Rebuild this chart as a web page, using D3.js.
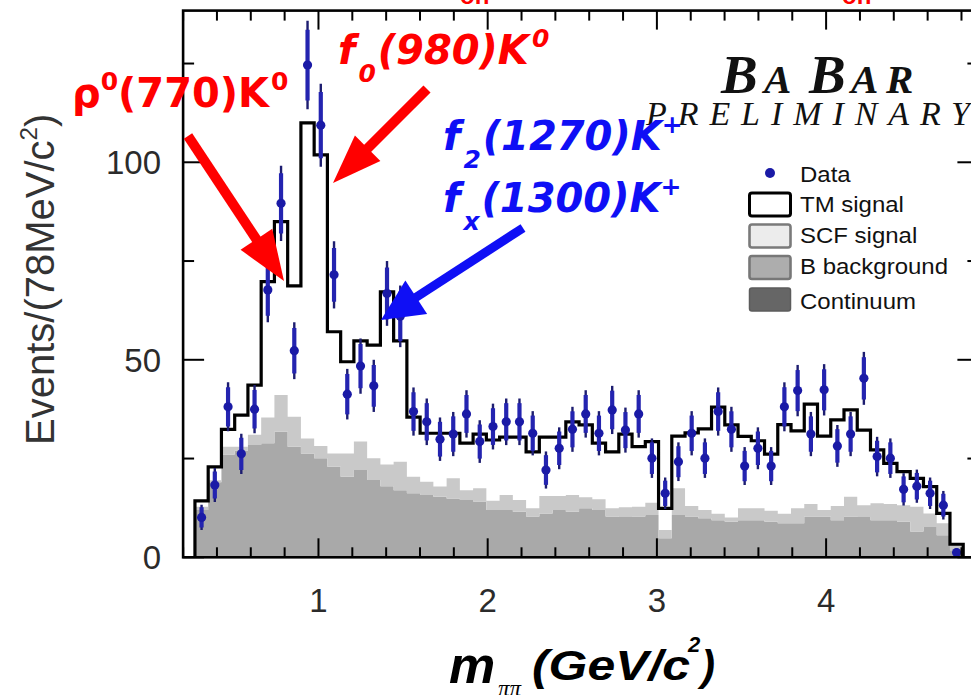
<!DOCTYPE html>
<html><head><meta charset="utf-8">
<script src="https://cdn.jsdelivr.net/npm/d3@7"></script>
<style>body{margin:0;background:#fff;overflow:hidden}</style>
</head><body>
<svg id="c" width="971" height="695" xmlns="http://www.w3.org/2000/svg"></svg>
<script>
// ---------------- data ----------------
const binStart = 0.27;      // GeV/c^2, low edge of first bin
const binWidth = 0.07828;   // GeV/c^2
const dataCounts = [10.1,18.3,38.1,26.2,37.5,67.7,89.6,52.3,124.6,109.4,71.5,41.3,48.4,43.4,66.8,61.0,36.9,34.3,29.9,31.2,
  36.3,29.3,33.1,34.3,34.3,31.4,22.1,27.6,32.4,36.3,31.4,37.3,32.2,36.3,25.1,16.2,24.2,31.4,25.1,36.9,
  32.4,23.1,27.6,23.1,38.1,42.2,31.2,42.4,28.2,31.2,45.3,25.5,25.1,17.2,18.0,16.2,13.2,1.2];
const dataErrors = [3.2,4.3,6.2,5.1,6.1,8.2,9.5,7.2,11.2,10.5,8.5,6.4,7.0,6.6,8.2,7.8,6.1,5.9,5.5,5.6,
  6.0,5.4,5.8,5.9,5.9,5.6,4.7,5.3,5.7,6.0,5.6,6.1,5.7,6.0,5.0,4.0,4.9,5.6,5.0,6.1,
  5.7,4.8,5.3,4.8,6.2,6.5,5.6,6.5,5.3,5.6,6.7,5.0,5.0,4.1,4.2,4.0,3.6,1.1];
const bBackground = [12.0,19.0,26.0,27.0,28.4,28.9,31.8,28.0,26.3,25.1,22.9,20.4,22.1,19.6,18.0,17.0,16.2,15.8,15.3,14.9,
  14.5,14.1,12.0,12.0,11.5,10.3,11.1,12.0,11.5,12.4,12.0,10.3,10.2,10.3,10.7,4.8,10.7,10.3,9.9,9.4,
  9.0,9.4,9.4,9.0,8.6,8.6,10.3,10.3,9.4,10.3,10.2,9.4,9.4,9.0,6.5,7.7,5.6,1.8];
const scfSignal = [0.8,0.5,2.0,1.0,2.6,6.5,9.3,7.6,3.8,3.1,3.4,5.9,7.2,5.5,5.5,7.2,4.2,3.3,2.6,5.1,
  2.5,3.4,2.3,3.8,3.0,2.1,4.4,3.5,4.3,2.8,2.7,2.1,2.5,2.5,3.1,2.1,6.8,2.7,2.1,1.6,
  1.1,3.0,3.0,2.8,2.4,3.8,3.2,1.7,3.6,5.0,3.0,4.3,4.1,4.2,6.3,3.4,3.0,1.4];
const tmSignal = [1.5,3.4,4.4,8.0,12.6,34.4,43.9,33.1,79.9,73.7,30.8,23.2,25.5,28.6,43.7,30.6,15.1,12.3,13.5,11.4,
  11.9,13.7,15.4,14.6,15.9,14.3,14.9,14.9,18.5,18.3,14.2,14.3,18.5,15.2,15.5,5.5,13.2,18.5,20.5,27.0,
  23.4,18.2,17.1,14.3,22.6,19.6,25.3,18.7,21.8,22.0,19.0,13.5,10.3,8.5,7.2,6.8,2.5,0.1];
const continuum = dataCounts.map(() => 0); // not visible in this plot
const xTickValues = [1,2,3,4];
const xTickLabels = ["1","2","3","4"];
const yTickValues = [0,50,100];
const yTickLabels = ["0","50","100"];
const legendLabels = ["Data","TM signal","SCF signal","B background","Continuum"];

// ---------------- layout ----------------
const svg = d3.select("#c");
const X0 = 183.1, X1 = 978.4, Y0 = 557.3, Y1 = 10.6;
const x = d3.scaleLinear().domain([0.2, 4.9]).range([X0, X1]);
const y = d3.scaleLinear().domain([0, 138.4]).range([Y0, Y1]);

svg.append("defs").append("clipPath").attr("id","plot")
  .append("rect").attr("x",X0).attr("y",Y1).attr("width",X1-X0).attr("height",Y0-Y1);

const rows = dataCounts.map((d,i)=>({i, cont:continuum[i], bkg:bBackground[i], scf:scfSignal[i], tm:tmSignal[i]}));
const stacked = d3.stack().keys(["cont","bkg","scf","tm"])(rows);
const lo = i => binStart + i*binWidth, hi = i => binStart + (i+1)*binWidth;

function stepPoints(layer){
  const pts = [];
  layer.forEach((s,i)=>{ pts.push({m:lo(i),a:s[0],b:s[1]}, {m:hi(i),a:s[0],b:s[1]}); });
  return pts;
}
const area = d3.area().x(p=>x(p.m)).y0(p=>y(p.a)).y1(p=>y(p.b));
const g = svg.append("g").attr("clip-path","url(#plot)");
const fills = {cont:"#666666", bkg:"#a9a9a9", scf:"#c9c9c9"};
stacked.slice(0,3).forEach(layer=>{
  g.append("path").attr("d", area(stepPoints(layer))).attr("fill", fills[layer.key]).attr("stroke","none");
});

// total (TM signal on top of stack) as black step line
const topLayer = stacked[3];
const linePts = [{m:lo(0), v:0}];
topLayer.forEach((s,i)=>{ linePts.push({m:lo(i),v:s[1]},{m:hi(i),v:s[1]}); });
linePts.push({m:hi(topLayer.length-1), v:0});
g.append("path").attr("d", d3.line().x(p=>x(p.m)).y(p=>y(p.v))(linePts))
  .attr("fill","none").attr("stroke","#000").attr("stroke-width",3.2).attr("stroke-linejoin","miter");

// data points
const dg = g.append("g");
dataCounts.forEach((n,i)=>{
  const c = x(binStart + (i+0.5)*binWidth);
  const e = dataErrors[i];
  dg.append("line").attr("x1",c).attr("x2",c).attr("y1",y(n-e)).attr("y2",y(n+e))
    .attr("stroke","#1d1d70").attr("stroke-width",2.4);
  dg.append("line").attr("x1",c).attr("x2",c).attr("y1",y(n-0.8*e)).attr("y2",y(n+0.8*e))
    .attr("stroke","#2424b0").attr("stroke-width",4.2);
  dg.append("circle").attr("cx",c).attr("cy",y(n)).attr("r",4.6).attr("fill","#1a1aa6");
});

// ---------------- frame and axes ----------------
const minorX = d3.range(1,25).map(k=>+(k*0.2).toFixed(1)).filter(v=>Math.abs(v-Math.round(v))>1e-6);
const minorY = [25,75,125];
const axG = svg.append("g").attr("stroke","#000").attr("fill","none");
function ticksX(vals, len){
  vals.forEach(v=>{
    axG.append("line").attr("x1",x(v)).attr("x2",x(v)).attr("y1",Y0).attr("y2",Y0-len).attr("stroke-width",2);
    axG.append("line").attr("x1",x(v)).attr("x2",x(v)).attr("y1",Y1).attr("y2",Y1+len).attr("stroke-width",2);
  });
}
function ticksY(vals, len){
  vals.forEach(v=>{
    axG.append("line").attr("x1",X0).attr("x2",X0+len).attr("y1",y(v)).attr("y2",y(v)).attr("stroke-width",2);
    axG.append("line").attr("x1",X1).attr("x2",X1-len).attr("y1",y(v)).attr("y2",y(v)).attr("stroke-width",2);
  });
}
ticksX(xTickValues, 19); ticksX(minorX, 10);
ticksY(yTickValues, 21); ticksY(minorY, 11);
axG.append("rect").attr("x",X0).attr("y",Y1).attr("width",X1-X0).attr("height",Y0-Y1).attr("stroke-width",2.6);

const lab = svg.append("g").attr("font-family","'Liberation Sans', Arial, sans-serif").attr("fill","#2b2b2b");
xTickValues.forEach((v,i)=>{
  lab.append("text").attr("x",x(v)).attr("y",612).attr("text-anchor","middle").attr("font-size",33).text(xTickLabels[i]);
});
yTickValues.forEach((v,i)=>{
  lab.append("text").attr("x",161).attr("y",y(v)+12).attr("text-anchor","end").attr("font-size",33).text(yTickLabels[i]);
});
// y title
const yt = lab.append("text").attr("transform","translate(54,445) rotate(-90)").attr("font-size",40).attr("fill","#333");
yt.append("tspan").text("Events/(78MeV/c");
yt.append("tspan").attr("font-size",24).attr("dy",-17).text("2");
yt.append("tspan").attr("dy",17).text(")");

// x title
const xt = svg.append("g").attr("font-family","'Liberation Sans', Arial, sans-serif").attr("fill","#000").attr("font-weight","bold").attr("font-style","italic");
xt.append("text").attr("x",449).attr("y",683).attr("font-size",52).text("m");
xt.append("text").attr("x",498).attr("y",696).attr("font-size",23).attr("font-family","'Liberation Serif', serif").attr("font-weight","normal").text("ππ");
xt.append("text").attr("x",532).attr("y",680).attr("font-size",42).attr("textLength",158).attr("lengthAdjust","spacingAndGlyphs").text("(GeV/c");
xt.append("text").attr("x",688).attr("y",652).attr("font-size",22).text("2");
xt.append("text").attr("x",701).attr("y",680).attr("font-size",42).text(")");

// ---------------- legend ----------------
const lg = svg.append("g").attr("font-family","'Liberation Sans', Arial, sans-serif").attr("font-size",22).attr("fill","#111");
lg.append("circle").attr("cx",770).attr("cy",173).attr("r",5).attr("fill","#1a1aa6");
const boxes = [
  {y:193, fill:"#ffffff", stroke:"#000", sw:3},
  {y:224.5, fill:"#ececec", stroke:"#7a7a7a", sw:2.6},
  {y:256, fill:"#adadad", stroke:"#777", sw:2.6},
  {y:288, fill:"#666666", stroke:"#5c5c5c", sw:1.5}
];
boxes.forEach(b=>{
  lg.append("rect").attr("x",749.5).attr("y",b.y).attr("width",41).attr("height",23).attr("rx",2.5)
    .attr("fill",b.fill).attr("stroke",b.stroke).attr("stroke-width",b.sw);
});
const lgY = [182, 212, 243, 274, 308.5];
legendLabels.forEach((t,i)=>{
  const el = lg.append("text").attr("x",800).attr("y",lgY[i]).text(t);
  const w = el.node().getComputedTextLength();
  el.attr("textLength", w*1.09).attr("lengthAdjust","spacingAndGlyphs");
});

// ---------------- BABAR logo ----------------
const bb = svg.append("g").attr("font-family","'Liberation Serif', 'Times New Roman', serif").attr("fill","#111");
const logo = [{t:"B",x:721,s:55},{t:"A",x:764,s:41},{t:"B",x:809,s:55},{t:"A",x:851,s:41},{t:"R",x:886,s:41}];
logo.forEach(l=>bb.append("text").attr("x",l.x).attr("y",93).attr("font-size",l.s).attr("font-weight","bold").attr("font-style","italic").text(l.t));
bb.append("text").attr("x",646).attr("y",125).attr("font-size",34).attr("font-style","italic")
  .attr("textLength",324).attr("lengthAdjust","spacing").text("PRELIMINARY");

// ---------------- annotations ----------------
const an = svg.append("g").attr("font-family","'DejaVu Sans', sans-serif").attr("font-weight","bold").attr("font-size",40);
function label(xp, yp, parts, color, italic){
  const t = an.append("text").attr("x",xp).attr("y",yp).attr("fill",color).attr("font-style",italic?"italic":"normal");
  let cur = 0;
  parts.forEach(p=>{
    const off = p.sup ? -17 : p.sub ? 18 : 0;
    const ts = t.append("tspan").attr("dy", off-cur).text(p.t);
    if(p.sup||p.sub) ts.attr("font-size",25);
    if(p.dx) ts.attr("dx",p.dx);
    cur = off;
  });
}
label(72,107,[{t:"ρ"},{t:"0",sup:true},{t:"(770)K"},{t:"0",sup:true,dx:2}],"#ff0000",false);
label(338,64,[{t:"f"},{t:"0",sub:true,dx:3},{t:"(980)K",dx:2},{t:"0",sup:true,dx:3}],"#ff0000",true);
label(443,150,[{t:"f"},{t:"2",sub:true,dx:3},{t:"(1270)K",dx:2},{t:"+",sup:true}],"#0f0ff5",true);
label(443,212,[{t:"f"},{t:"x",sub:true,dx:3},{t:"(1300)K",dx:2},{t:"+",sup:true}],"#0f0ff5",true);

// top cropped title fragments
svg.append("text").attr("x",460).attr("y",3.5).attr("font-family","'Liberation Sans', sans-serif").attr("font-weight","bold").attr("font-size",24).attr("fill","#ff0000").text("on");
svg.append("text").attr("x",842).attr("y",3.5).attr("font-family","'Liberation Sans', sans-serif").attr("font-weight","bold").attr("font-size",24).attr("fill","#ff0000").text("on");

// arrows
function arrow(x1,y1,x2,y2,color,headLen,halfW,shaftW){
  const dx=x2-x1, dy=y2-y1, L=Math.hypot(dx,dy), ux=dx/L, uy=dy/L, px=-uy, py=ux;
  const bx=x2-ux*headLen, by=y2-uy*headLen;
  svg.append("line").attr("x1",x1).attr("y1",y1).attr("x2",bx+ux*2).attr("y2",by+uy*2)
    .attr("stroke",color).attr("stroke-width",shaftW);
  svg.append("polygon").attr("points",[[x2,y2],[bx+px*halfW,by+py*halfW],[bx-px*halfW,by-py*halfW]].map(p=>p.join(",")).join(" "))
    .attr("fill",color);
}
arrow(188,136,284,281,"#ff0000",50,19,10);
arrow(427,89,333,183,"#ff0000",49,18,10);
arrow(523,228,381,320,"#0f0ff5",42,20,9);
</script>
</body></html>
